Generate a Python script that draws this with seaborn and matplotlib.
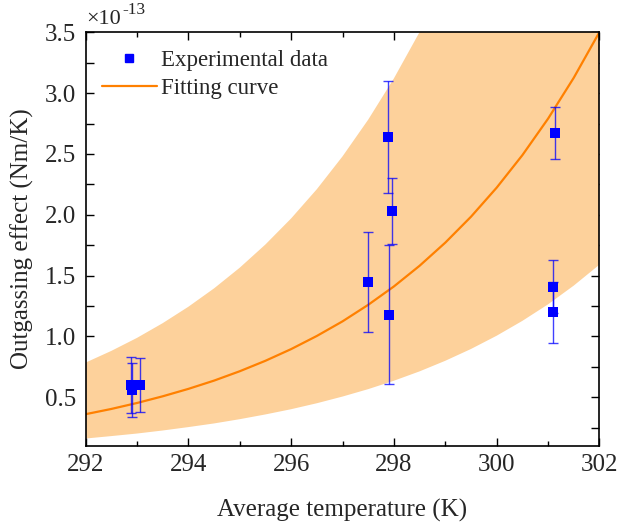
import matplotlib
matplotlib.use("Agg")
import matplotlib.pyplot as plt
from matplotlib.ticker import MultipleLocator
from matplotlib.lines import Line2D
import seaborn as sns
import pandas as pd

# ---- data (values in units of 1e-13 Nm/K) ----
temp = [292.88, 292.90, 293.06, 297.50, 297.88, 297.955, 297.90, 301.13, 301.09, 301.09]
effect = [0.60, 0.56, 0.60, 1.45, 2.64, 2.03, 1.18, 2.67, 1.41, 1.20]
effect_err = [0.23, 0.22, 0.225, 0.41, 0.46, 0.27, 0.57, 0.215, 0.22, 0.25]

fit_temp = [292.0, 292.5, 293.0, 293.5, 294.0, 294.5, 295.0, 295.5, 296.0, 296.5, 297.0,
            297.5, 298.0, 298.5, 299.0, 299.5, 300.0, 300.5, 301.0, 301.5, 302.0]
fit_curve = [0.361, 0.404, 0.453, 0.508, 0.569, 0.637, 0.714, 0.800, 0.896, 1.004, 1.124,
             1.260, 1.411, 1.581, 1.771, 1.984, 2.223, 2.490, 2.790, 3.126, 3.502]
band_upper = [0.785, 0.881, 0.988, 1.109, 1.244, 1.395, 1.565, 1.756, 1.970, 2.210, 2.480,
              2.782, 3.121, 3.502, 3.928, 4.407, 4.944, 5.547, 6.223, 6.980, 7.830]
band_lower = [0.161, 0.181, 0.202, 0.227, 0.255, 0.285, 0.320, 0.359, 0.402, 0.451, 0.506,
              0.567, 0.636, 0.713, 0.800, 0.897, 1.006, 1.128, 1.264, 1.418, 1.590]

x_ticks = [292, 294, 296, 298, 300, 302]
y_ticks = [0.5, 1.0, 1.5, 2.0, 2.5, 3.0, 3.5]

pts = pd.DataFrame({"temp": temp, "effect": effect, "err": effect_err})
fit = pd.DataFrame({"temp": fit_temp, "curve": fit_curve,
                    "upper": band_upper, "lower": band_lower})

sns.set_style("ticks")
plt.rcParams["font.family"] = ["Liberation Serif", "DejaVu Serif"]

fig = plt.figure(figsize=(6.18, 5.29), dpi=100)
ax = fig.add_axes([0.1385, 0.157, 0.8315, 0.782])

BLUE = "#0000FF"
ORANGE = "#FF8000"
BAND = "#FDD19B"

ax.fill_between(fit["temp"], fit["lower"], fit["upper"], color=BAND, lw=0, zorder=1)
sns.lineplot(data=fit, x="temp", y="curve", ax=ax, color=ORANGE, lw=1.6, zorder=2,
             label="_nolegend_")
ax.errorbar(pts["temp"], pts["effect"], yerr=pts["err"], fmt="none",
            ecolor=BLUE, elinewidth=1.0, capsize=3.4, capthick=1.0, alpha=0.75, zorder=3)
sns.scatterplot(data=pts, x="temp", y="effect", ax=ax, marker="s", s=46,
                color=BLUE, edgecolor=BLUE, linewidth=0, zorder=4, legend=False)

ax.set_xlim(292, 302)
ax.set_ylim(0.1, 3.5)
ax.set_xticks(x_ticks)
ax.set_yticks(y_ticks)
ax.set_xticklabels([str(t) for t in x_ticks])
ax.set_yticklabels([f"{t:.1f}" for t in y_ticks])
ax.xaxis.set_minor_locator(MultipleLocator(1))
ax.yaxis.set_minor_locator(MultipleLocator(0.25))
ax.tick_params(which="both", direction="in", top=True, right=True, width=1.0, color="black")
ax.tick_params(axis="x", which="major", length=6, labelsize=18, pad=6)
ax.tick_params(axis="x", which="minor", length=3.5)
ax.tick_params(axis="y", which="both", length=6, labelsize=18, pad=7)
for sp in ax.spines.values():
    sp.set_linewidth(1.2)
    sp.set_color("black")

ax.set_xlabel("Average temperature (K)", fontsize=18, labelpad=16)
ax.set_ylabel("Outgassing effect (Nm/K)", fontsize=18, labelpad=8)

# offset text
fig.text(0.140, 0.955, "\u00d710", fontsize=16, ha="left", va="baseline")
fig.text(0.198, 0.973, "-13", fontsize=12.5, ha="left", va="baseline")

handles = [Line2D([], [], ls="none", marker="s", color=BLUE, markersize=6),
           Line2D([], [], color=ORANGE, lw=1.6)]
ax.legend(handles, ["Experimental data", "Fitting curve"], loc="upper left",
          bbox_to_anchor=(0.005, 0.99), frameon=False, fontsize=16.5,
          handlelength=2.4, handletextpad=0.2, labelspacing=0.3, borderaxespad=0.2)

fig.savefig("out.png", dpi=100)
